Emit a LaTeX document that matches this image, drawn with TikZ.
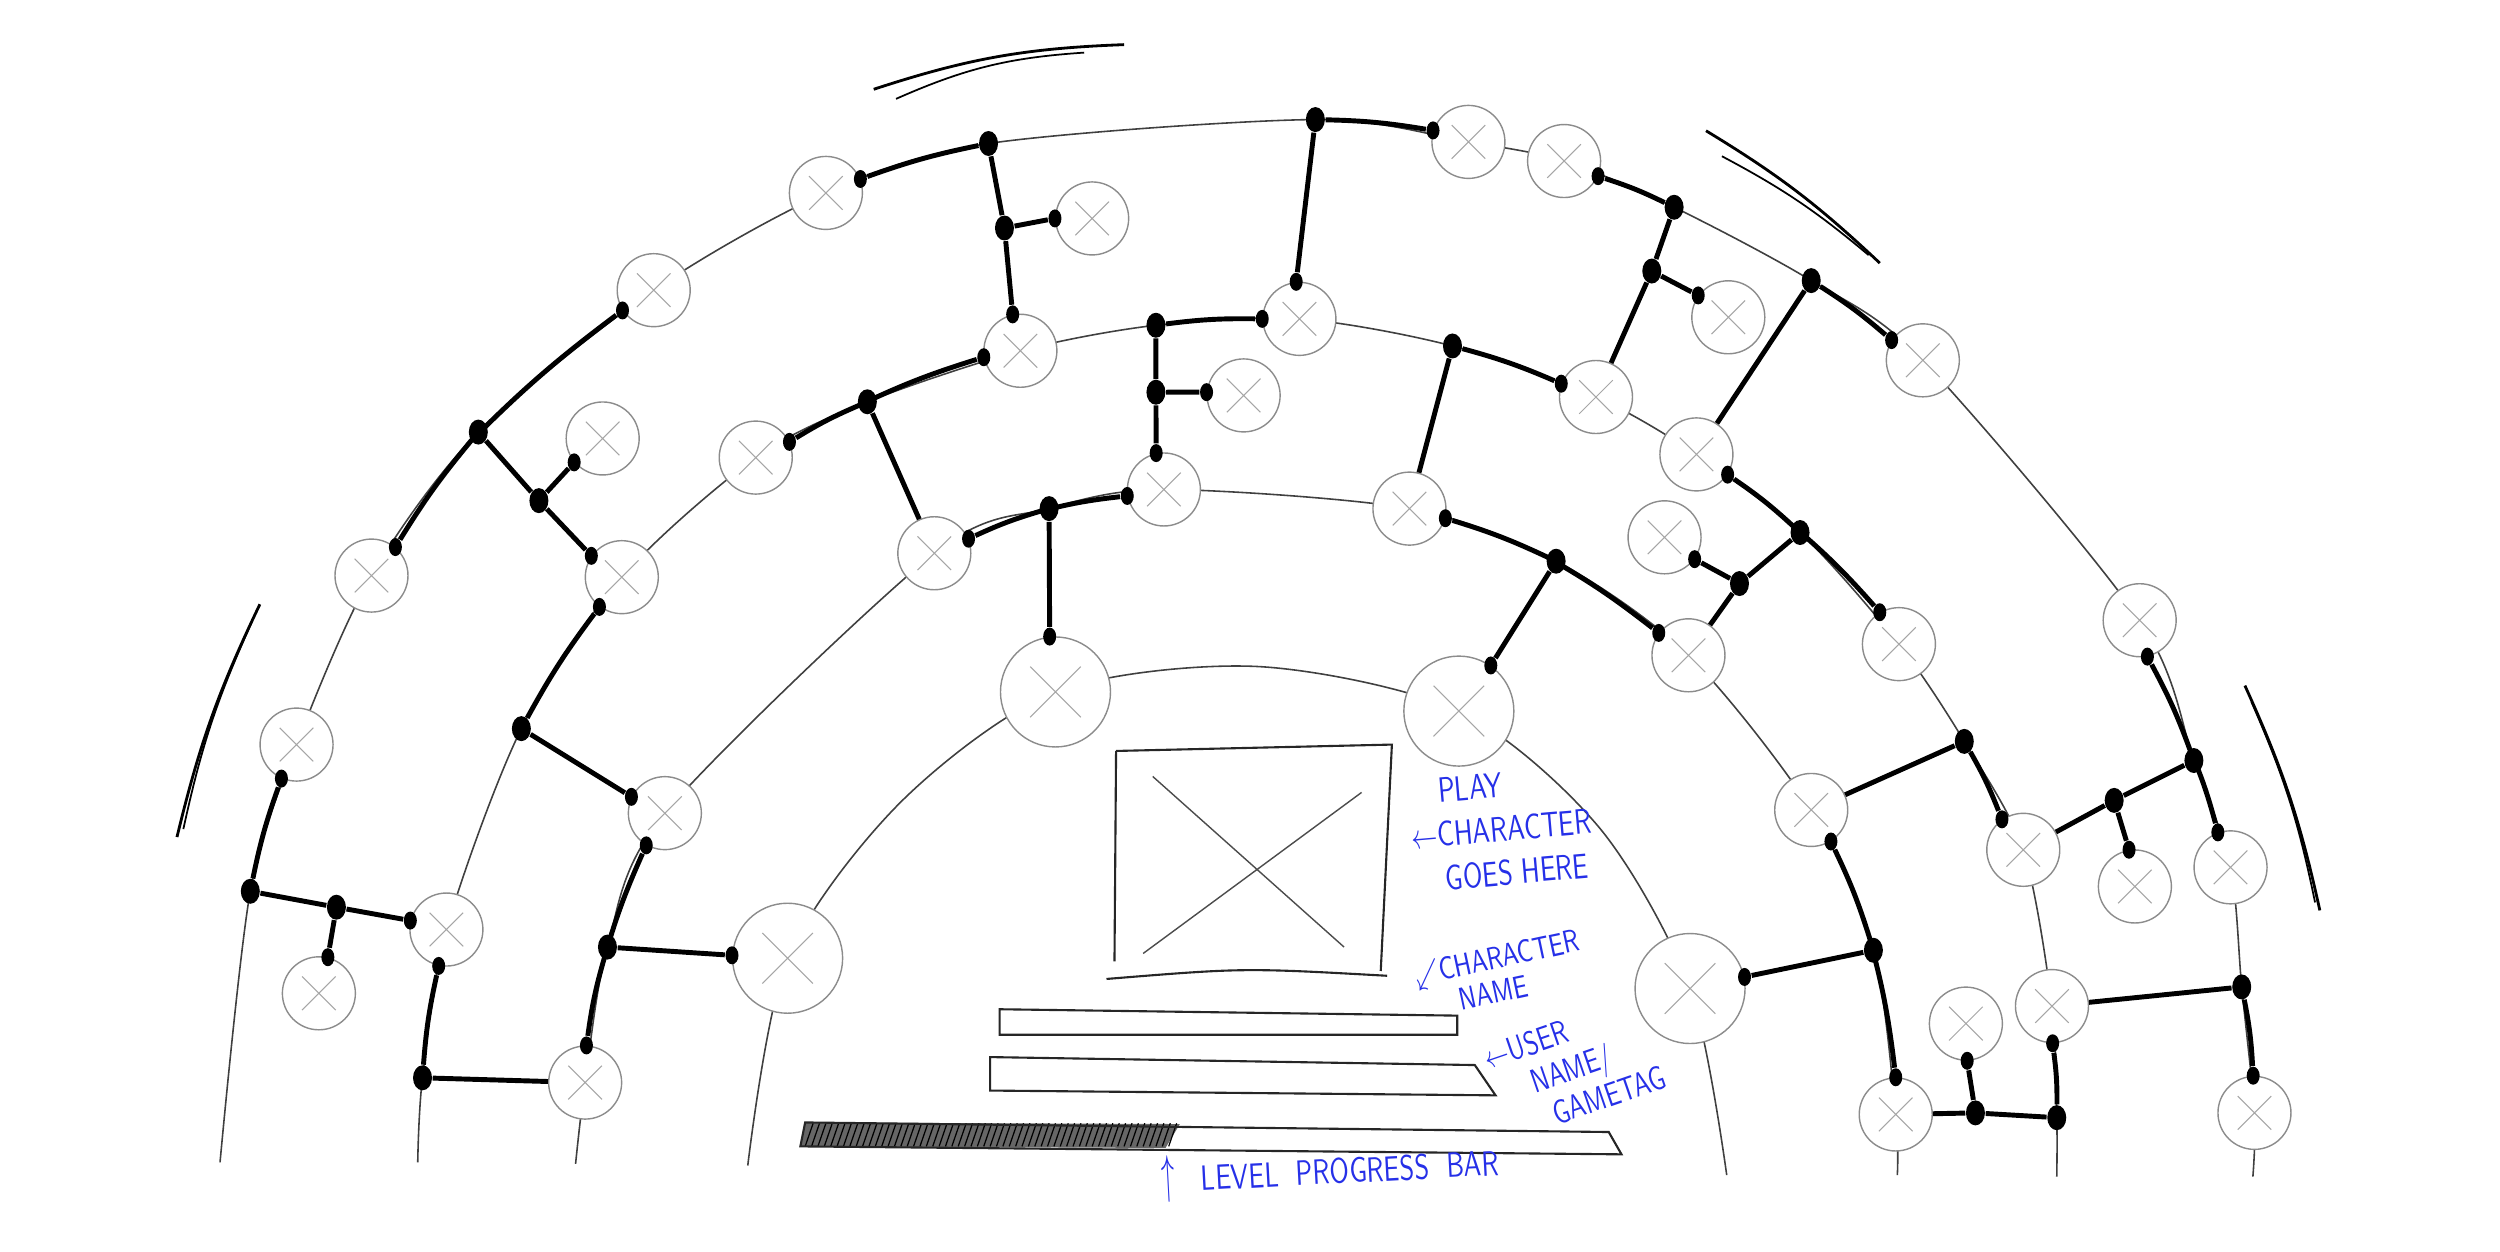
\documentclass[tikz,border=0pt]{standalone}
\usepackage{amsmath, amssymb}
\usepackage{tikz}
\usetikzlibrary{arrows.meta, positioning, calc, shapes.geometric, backgrounds}
\usepackage{xcolor}
\definecolor{pen}{RGB}{38,48,232}
\newcommand{\scrawl}[1]{\scalebox{0.75}[1]{#1}}

\tikzset{
  slot/.style={circle, draw=black!45, fill=white, line width=0.4pt, inner sep=0pt, minimum size=7.3mm,
    path picture={\draw[black!35, line width=0.3pt]
      ($(path picture bounding box.north west)!.27!(path picture bounding box.south east)$) --
      ($(path picture bounding box.north west)!.73!(path picture bounding box.south east)$)
      ($(path picture bounding box.north east)!.27!(path picture bounding box.south west)$) --
      ($(path picture bounding box.north east)!.73!(path picture bounding box.south west)$);}},
  bigslot/.style={slot, minimum size=11mm},
  joint/.style={ellipse, fill=black, inner sep=0pt, minimum width=1.9mm, minimum height=2.5mm},
  stud/.style={ellipse, fill=black, inner sep=0pt, minimum width=1.3mm, minimum height=1.8mm},
  link/.style={line width=1.4pt, black},
  arclink/.style={link, bend left=4},
  ring/.style={line width=0.45pt, black!75},
  sketch/.style={line width=0.6pt, black!85},
  swoosh/.style={line width=0.8pt, black},
  note/.style={text=pen, font=\sffamily, inner sep=1pt, align=left},
}

\begin{document}
\begin{tikzpicture}[x=0.15944mm, y=-0.15944mm]
  \useasboundingbox (0,0) rectangle (1568,785);

  % outer ring
  \node[slot] (o1) at (518,121) {};
  \node[slot] (o2) at (410,182) {};
  \node[slot] (o3) at (233,361) {};
  \node[slot] (o4) at (186,467) {};
  \node[slot] (o5) at (921,89) {};
  \node[slot] (o6) at (981,101) {};
  \node[slot] (o7) at (1206,226) {};
  \node[slot] (o8) at (1342,389) {};
  \node[slot] (o9) at (1399,544) {};
  \node[slot] (o10) at (1414,698) {};
  \node[joint] (oa) at (157,559) {};
  \node[joint] (ob) at (300,271) {};
  \node[joint] (oc) at (620,90) {};
  \node[joint] (od) at (825,75) {};
  \node[joint] (oe) at (1050,130) {};
  \node[joint] (of) at (1136,176) {};
  \node[joint] (og) at (1376,477) {};
  \node[joint] (oh) at (1406,619) {};

  % third ring
  \node[slot] (t1) at (640,220) {};
  \node[slot] (t2) at (474,287) {};
  \node[slot] (t3) at (390,362) {};
  \node[slot] (t4) at (280,583) {};
  \node[slot] (t5) at (815,200) {};
  \node[slot] (t6) at (1001,249) {};
  \node[slot] (t7) at (1064,285) {};
  \node[slot] (t8) at (1191,404) {};
  \node[slot] (t9) at (1269,533) {};
  \node[slot] (t10) at (1287,631) {};
  \node[joint] (ta) at (265,676) {};
  \node[joint] (tb) at (327,457) {};
  \node[joint] (tc) at (544,252) {};
  \node[joint] (td) at (725,204) {};
  \node[joint] (te) at (911,217) {};
  \node[joint] (tf) at (1129,334) {};
  \node[joint] (tg) at (1232,465) {};
  \node[joint] (th) at (1290,701) {};

  % second ring
  \node[slot] (s1) at (586,347) {};
  \node[slot] (s2) at (730,307) {};
  \node[slot] (s3) at (417,510) {};
  \node[slot] (s4) at (367,679) {};
  \node[slot] (s5) at (884,319) {};
  \node[slot] (s6) at (1059,411) {};
  \node[slot] (s7) at (1136,508) {};
  \node[slot] (s8) at (1189,699) {};
  \node[joint] (sa) at (381,594) {};
  \node[joint] (sb) at (658,319) {};
  \node[joint] (sc) at (976,352) {};
  \node[joint] (sd) at (1175,596) {};

  % inner ring
  \node[bigslot] (i1) at (494,601) {};
  \node[bigslot] (i2) at (662,434) {};
  \node[bigslot] (i3) at (915,446) {};
  \node[bigslot] (i4) at (1060,620) {};

  % side slots and branch joints
  \node[slot] (l1) at (685,137) {};
  \node[slot] (l2) at (780,248) {};
  \node[slot] (l3) at (378,275) {};
  \node[slot] (l4) at (200,623) {};
  \node[slot] (l5) at (1084,199) {};
  \node[slot] (l6) at (1044,337) {};
  \node[slot] (l7) at (1339,556) {};
  \node[slot] (l8) at (1233,642) {};
  \node[joint] (ba) at (211,569) {};
  \node[joint] (bb) at (338,314) {};
  \node[joint] (bc) at (630,143) {};
  \node[joint] (bd) at (725,246) {};
  \node[joint] (be) at (1036,170) {};
  \node[joint] (bf) at (1091,366) {};
  \node[joint] (bg) at (1326,502) {};
  \node[joint] (bh) at (1239,698) {};

  % studs on the slot rims
  \node[stud] (o1s) at (o1.22) {};
  \node[stud] (o2s) at (o2.213) {};
  \node[stud] (o3s) at (o3.50) {};
  \node[stud] (o4s) at (o4.246) {};
  \node[stud] (o5s) at (o5.162) {};
  \node[stud] (o6s) at (o6.336) {};
  \node[stud] (o7s) at (o7.147) {};
  \node[stud] (o8s) at (o8.282) {};
  \node[stud] (o9s) at (o9.110) {};
  \node[stud] (o10s) at (o10.92) {};
  \node[stud] (t1a) at (t1.190) {};
  \node[stud] (t1b) at (t1.102) {};
  \node[stud] (t2s) at (t2.25) {};
  \node[stud] (t3a) at (t3.233) {};
  \node[stud] (t3b) at (t3.145) {};
  \node[stud] (t4a) at (t4.258) {};
  \node[stud] (t4b) at (t4.166) {};
  \node[stud] (t5a) at (t5.180) {};
  \node[stud] (t5b) at (t5.95) {};
  \node[stud] (t6s) at (t6.159) {};
  \node[stud] (t7s) at (t7.327) {};
  \node[stud] (t8s) at (t8.121) {};
  \node[stud] (t9s) at (t9.125) {};
  \node[stud] (t10s) at (t10.271) {};
  \node[stud] (s1s) at (s1.23) {};
  \node[stud] (s2a) at (s2.190) {};
  \node[stud] (s2b) at (s2.102) {};
  \node[stud] (s3a) at (s3.240) {};
  \node[stud] (s3b) at (s3.154) {};
  \node[stud] (s4s) at (s4.88) {};
  \node[stud] (s5s) at (s5.345) {};
  \node[stud] (s6s) at (s6.143) {};
  \node[stud] (s7s) at (s7.302) {};
  \node[stud] (s8s) at (s8.90) {};
  \node[stud] (i1s) at (i1.177) {};
  \node[stud] (i2s) at (i2.96) {};
  \node[stud] (i3s) at (i3.55) {};
  \node[stud] (i4s) at (i4.12) {};
  \node[stud] (l1s) at (l1.180) {};
  \node[stud] (l2s) at (l2.175) {};
  \node[stud] (l3s) at (l3.220) {};
  \node[stud] (l4s) at (l4.76) {};
  \node[stud] (l5s) at (l5.144) {};
  \node[stud] (l6s) at (l6.324) {};
  \node[stud] (l7s) at (l7.99) {};
  \node[stud] (l8s) at (l8.272) {};

  % bold runs along the rings
  \draw[link] (oa) to[arclink] (o4s);
  \draw[link] (o3s) to[arclink] (ob) to[arclink] (o2s);
  \draw[link] (o1s) to[arclink] (oc);
  \draw[link] (od) to[arclink] (o5s);
  \draw[link] (o6s) to[arclink] (oe);
  \draw[link] (of) to[arclink] (o7s);
  \draw[link] (o8s) to[arclink] (og) to[arclink] (o9s);
  \draw[link] (oh) to[arclink] (o10s);
  \draw[link] (ta) to[arclink] (t4a);
  \draw[link] (tb) to[arclink] (t3a);
  \draw[link] (t2s) to[arclink] (tc) to[arclink] (t1a);
  \draw[link] (td) to[arclink] (t5a);
  \draw[link] (te) to[arclink] (t6s);
  \draw[link] (t7s) to[arclink] (tf) to[arclink] (t8s);
  \draw[link] (tg) to[arclink] (t9s);
  \draw[link] (t10s) to[arclink] (th);
  \draw[link] (s4s) to[arclink] (sa) to[arclink] (s3a);
  \draw[link] (s1s) to[arclink] (sb) to[arclink] (s2a);
  \draw[link] (s5s) to[arclink] (sc) to[arclink] (s6s);
  \draw[link] (s7s) to[arclink] (sd) to[arclink] (s8s);

  % branches between rings
  \draw[link] (oa) -- (ba) -- (t4b); \draw[link] (ba) -- (l4s);
  \draw[link] (ob) -- (bb) -- (t3b); \draw[link] (bb) -- (l3s);
  \draw[link] (oc) -- (bc) -- (t1b); \draw[link] (bc) -- (l1s);
  \draw[link] (od) -- (t5b);
  \draw[link] (oe) -- (be) -- (t6); \draw[link] (be) -- (l5s);
  \draw[link] (of) -- (t7);
  \draw[link] (og) -- (bg) -- (t9); \draw[link] (bg) -- (l7s);
  \draw[link] (oh) -- (t10);
  \draw[link] (ta) -- (s4);
  \draw[link] (tb) -- (s3b);
  \draw[link] (tc) -- (s1);
  \draw[link] (td) -- (bd) -- (s2b); \draw[link] (bd) -- (l2s);
  \draw[link] (te) -- (s5);
  \draw[link] (tf) -- (bf) -- (s6); \draw[link] (bf) -- (l6s);
  \draw[link] (tg) -- (s7);
  \draw[link] (th) -- (bh) -- (s8); \draw[link] (bh) -- (l8s);
  \draw[link] (sa) -- (i1s);
  \draw[link] (sb) -- (i2s);
  \draw[link] (sc) -- (i3s);
  \draw[link] (sd) -- (i4s);

  \begin{scope}[on background layer]
    \fill[white] (0,0) rectangle (1568,785);
    \draw[ring] plot[smooth] coordinates {(138,729) (oa) (o4) (o3) (ob) (o2) (o1) (oc) (od) (o5) (o6) (oe) (of) (o7) (o8) (og) (o9) (oh) (o10) (1413,738)};
    \draw[ring] plot[smooth] coordinates {(262,729) (ta) (t4) (tb) (t3) (t2) (tc) (t1) (td) (t5) (te) (t6) (t7) (tf) (t8) (tg) (t9) (t10) (th) (1290,738)};
    \draw[ring] plot[smooth] coordinates {(361,730) (s4) (sa) (s3) (s1) (sb) (s2) (s5) (sc) (s6) (s7) (sd) (s8) (1190,737)};
    \draw[ring] plot[smooth] coordinates {(469,731) (i1) (565,503) (i2) (788,418) (i3) (1003,519) (i4) (1083,737)};
  \end{scope}

  % character card and bars
  \draw[sketch] (700,471) -- (873,467) -- (866,609);
  \draw[sketch] (699,603) -- (700,471);
  \draw[sketch] (694,614) .. controls (780,607) .. (870,612);
  \draw[black!70, line width=0.4pt] (723,487) -- (843,594) (854,497) -- (717,598);
  \draw[sketch] (627,633) -- (914,637) -- (914,649) -- (627,649) -- cycle;
  \draw[sketch] (621,663) -- (925,668) -- (938,687) -- (621,684) -- cycle;
  \fill[black!60] (505,704) -- (740,705) -- (731,720) -- (502,719) -- cycle;
  \foreach \k in {0,...,57} \draw[black, line width=0.35pt] ({505+4*\k},719) -- ({510+4*\k},704.5);
  \draw[sketch] (505,704) -- (1009,710) -- (1017,724) -- (502,719) -- cycle;

  % motion strokes
  \draw[swoosh] (548,56) to[bend left=8] (705,28);
  \draw[swoosh, line width=0.5pt] (562,62) to[bend left=10] (680,33);
  \draw[swoosh] (1070,82) to[bend left=6] (1179,165);
  \draw[swoosh, line width=0.5pt] (1080,98) to[bend left=6] (1172,160);
  \draw[swoosh] (163,379) to[bend right=6] (111,525);
  \draw[swoosh, line width=0.5pt] (158,390) to[bend right=6] (115,520);
  \draw[swoosh] (1408,430) to[bend left=6] (1455,571);
  \draw[swoosh, line width=0.5pt] (1412,440) to[bend left=6] (1452,566);

  % notes
  \node[note, rotate=5, anchor=west, font=\sffamily\fontsize{10}{12.5}\selectfont] (tplay) at (899,524)
    {\scrawl{\,PLAY}\\\scrawl{\llap{$\leftarrow$}CHARACTER}\\\scrawl{\,GOES HERE}};
  \node[note, rotate=12, anchor=west, font=\sffamily\fontsize{9}{9.6}\selectfont] (tname) at (902,619)
    {\scrawl{\llap{$\swarrow$}CHARACTER}\\\hspace*{1.4mm}\scrawl{NAME}};
  \node[note, rotate=19, anchor=west, font=\sffamily\fontsize{9.5}{10.6}\selectfont] (tuser) at (951,682)
    {\scrawl{\llap{$\leftarrow$}USER}\\\hspace*{1.2mm}\scrawl{NAME/}\\\hspace*{2.2mm}\scrawl{GAMETAG}};
  \node[note, rotate=3, anchor=west] (tbar) at (726,740)
    {\scrawl{\scalebox{1}[1.5]{$\uparrow$}\ \ \ LEVEL\ \ PROGRESS\ \ BAR}};
\end{tikzpicture}
\end{document}
